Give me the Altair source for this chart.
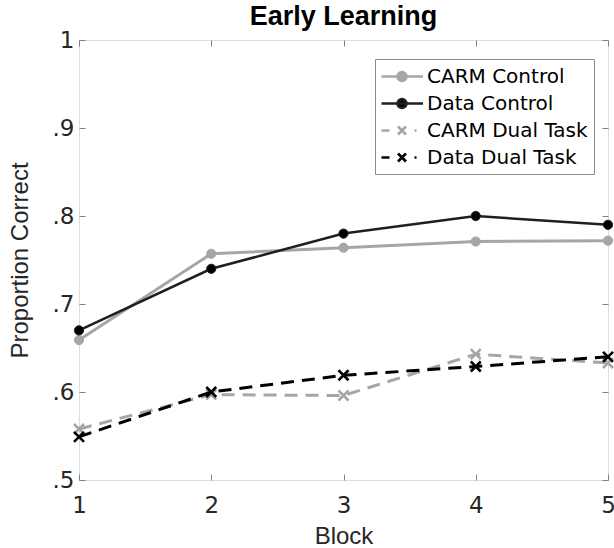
import altair as alt
import pandas as pd

blocks = [1, 2, 3, 4, 5]
series_names = ["CARM Control", "Data Control", "CARM Dual Task", "Data Dual Task"]
carm_control = [0.659, 0.757, 0.764, 0.771, 0.772]
data_control = [0.670, 0.740, 0.780, 0.800, 0.790]
carm_dual = [0.558, 0.597, 0.596, 0.643, 0.633]
data_dual = [0.549, 0.600, 0.619, 0.629, 0.640]
y_ticks = [0.5, 0.6, 0.7, 0.8, 0.9, 1.0]
x_ticks = [1, 2, 3, 4, 5]

values = [carm_control, data_control, carm_dual, data_dual]
rows = []
for name, vals in zip(series_names, values):
    for b, v in zip(blocks, vals):
        rows.append({"series": name, "block": b, "value": v})
df = pd.DataFrame(rows)

GRAY = "#a6a6a6"
DARK = "#1f1f1f"
BLACK = "#000000"
AX = "#808080"
TXT = "#262626"
XPATH = "M-1,-1L1,1M-1,1L1,-1"

styles = {
    "CARM Control": dict(color=GRAY, width=3, dash=None, marker="circle", fill=GRAY),
    "Data Control": dict(color=DARK, width=2.5, dash=None, marker="circle", fill=BLACK),
    "CARM Dual Task": dict(color=GRAY, width=3, dash=[13, 8], marker="x", fill=GRAY),
    "Data Dual Task": dict(color=BLACK, width=3, dash=[13, 8], marker="x", fill=BLACK),
}

xscale = alt.Scale(domain=[1, 5], nice=False, zero=False)
yscale = alt.Scale(domain=[0.5, 1.0], nice=False, zero=False)

y_label_expr = "datum.value == 1 ? '1' : replace(format(datum.value, '.1f'), '0.', '.')"

left_axis = alt.Axis(orient="left", offset=-6, tickSize=6, domain=False, grid=False,
                     values=y_ticks, labelExpr=y_label_expr, labelFont="DejaVu Sans",
                     labelFontSize=23, labelColor=TXT, labelPadding=5, tickColor=AX,
                     labelFlush=False, labelOverlap=False,
                     title="Proportion Correct", titleFont="Liberation Sans", titleFontSize=24,
                     titleFontWeight="normal", titleColor=TXT, titlePadding=20)
bottom_axis = alt.Axis(orient="bottom", offset=-6, tickSize=6, domain=False, grid=False,
                       values=x_ticks, format="d", labelFont="DejaVu Sans", labelFontSize=23,
                       labelColor=TXT, labelPadding=14, tickColor=AX, labelFlush=False,
                       labelOverlap=False, title="Block",
                       titleFont="Liberation Sans", titleFontSize=24, titleFontWeight="normal",
                       titleColor=TXT, titlePadding=7)
right_axis = alt.Axis(orient="right", offset=-6, tickSize=6, domain=False, grid=False,
                      values=y_ticks, labels=False, tickColor=AX, title=None)
top_axis = alt.Axis(orient="top", offset=-6, tickSize=6, domain=False, grid=False,
                    values=x_ticks, labels=False, tickColor=AX, title=None)

layers = []
for i, name in enumerate(series_names):
    st = styles[name]
    sub = df[df.series == name]
    line_kwargs = dict(color=st["color"], strokeWidth=st["width"])
    if st["dash"]:
        line_kwargs["strokeDash"] = st["dash"]
    if i == 0:
        xa, ya = bottom_axis, left_axis
        xa2, ya2 = top_axis, right_axis
    else:
        xa = ya = xa2 = ya2 = None
    line = alt.Chart(sub).mark_line(**line_kwargs).encode(
        x=alt.X("block:Q", scale=xscale, axis=xa),
        y=alt.Y("value:Q", scale=yscale, axis=ya),
    )
    if st["marker"] == "circle":
        pts = alt.Chart(sub).mark_point(shape="circle", filled=True, size=85, fill=st["fill"],
                                        stroke=st["color"], strokeWidth=1, opacity=1)
    else:
        pts = alt.Chart(sub).mark_point(shape=XPATH, filled=False, size=100, stroke=st["color"],
                                        strokeWidth=2.6, opacity=1)
    pts = pts.encode(
        x=alt.X("block:Q", scale=xscale, axis=xa2),
        y=alt.Y("value:Q", scale=yscale, axis=ya2),
    )
    layers += [line, pts]

# legend symbols: line + marker paths (units of 10 px)
leg_solid = "M-1.1,0H3.05M0.5,0a0.45,0.45 0 1,0 0.9,0a0.45,0.45 0 1,0 -0.9,0Z"
leg_dashed = ("M-1.1,0H-0.3M0.55,-0.4L1.35,0.4M0.55,0.4L1.35,-0.4M2.2,0H2.4")
leg_paths = [leg_solid, leg_solid, leg_dashed, leg_dashed]
leg_strokes = [GRAY, DARK, GRAY, BLACK]
leg_fills = [GRAY, BLACK, GRAY, BLACK]

leg = alt.Legend(title=None, orient="none", legendX=296, legendY=19, strokeColor="#8a8a8a",
                 fillColor="white", padding=6, labelFont="DejaVu Sans", labelFontSize=20,
                 labelColor=BLACK, rowPadding=5, symbolSize=400, symbolStrokeWidth=2.6,
                 labelOffset=23, labelLimit=400, cornerRadius=0)

legend_df = pd.DataFrame({"series": series_names})
legend_layer = alt.Chart(legend_df).transform_filter("false").mark_point(
    filled=True, size=400, strokeWidth=2.6, opacity=1
).encode(
    fill=alt.Fill("series:N", scale=alt.Scale(domain=series_names, range=leg_fills), legend=leg, sort=series_names),
    stroke=alt.Stroke("series:N", scale=alt.Scale(domain=series_names, range=leg_strokes), legend=leg, sort=series_names),
    shape=alt.Shape("series:N", scale=alt.Scale(domain=series_names, range=leg_paths), legend=leg, sort=series_names),
)
layers.append(legend_layer)

chart = alt.layer(*layers).resolve_axis(x="independent", y="independent").properties(
    width=529, height=440,
    title=alt.Title("Early Learning", font="Liberation Sans", fontSize=27, fontWeight="bold",
                    color=BLACK, anchor="middle", frame="group", baseline="alphabetic", offset=0,
                    dy=23),
    autosize=alt.AutoSizeParams(type="none"),
    padding={"left": 79, "top": 40, "right": 6, "bottom": 68},
).configure_view(stroke=AX, strokeWidth=1).configure(background="white")

chart.save("out.html", embed_options={"renderer": "svg", "actions": False})
